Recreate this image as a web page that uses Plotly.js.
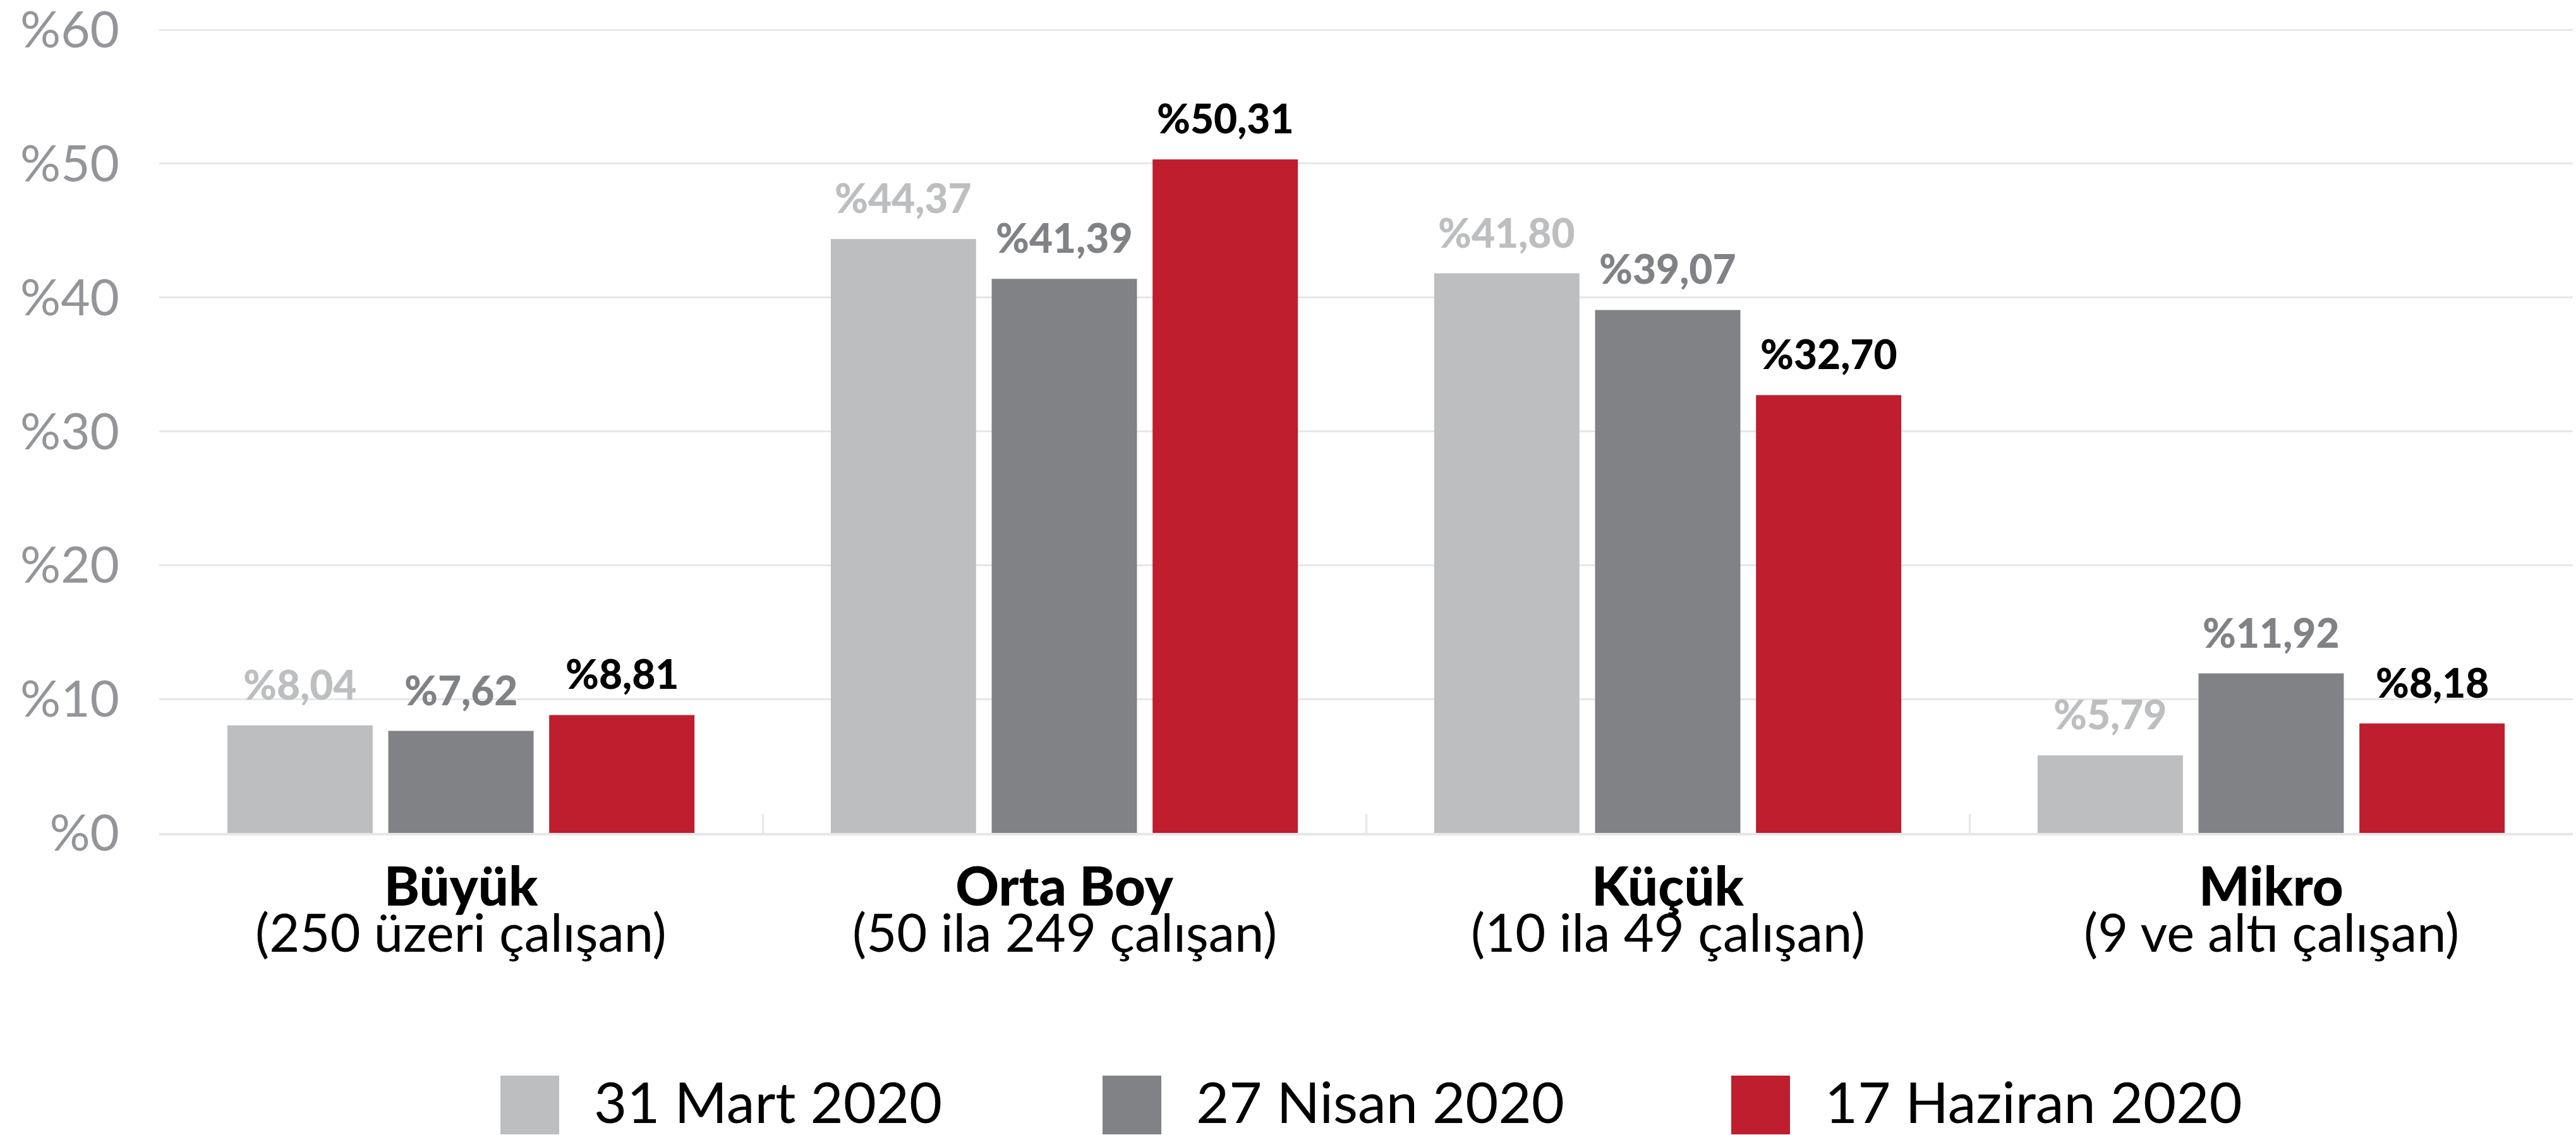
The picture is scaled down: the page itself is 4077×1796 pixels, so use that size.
<!DOCTYPE html>
<html>
<head>
<meta charset="utf-8">
<script src="https://cdn.plot.ly/plotly-3.0.1.min.js"></script>
<style>html,body{margin:0;padding:0;background:#fff;}#chart{width:4077px;height:1796px;}</style>
</head>
<body>
<div id="chart"></div>
<script>
// ---- data ----
const categories = ["Büyük", "Orta Boy", "Küçük", "Mikro"];
const subtitles = ["(250 üzeri çalışan)", "(50 ila 249 çalışan)", "(10 ila 49 çalışan)", "(9 ve altı çalışan)"];
const seriesNames = ["31 Mart 2020", "27 Nisan 2020", "17 Haziran 2020"];
const mart = [8.04, 44.37, 41.80, 5.79];
const nisan = [7.62, 41.39, 39.07, 11.92];
const haziran = [8.81, 50.31, 32.70, 8.18];
const yTicks = [0, 10, 20, 30, 40, 50, 60];
const yTickText = ["%0", "%10", "%20", "%30", "%40", "%50", "%60"];

// ---- styles ----
const barColors = ["#BCBEC0", "#808285", "#BE1E2D"];
const labelColors = ["#BCBEC0", "#808285", "#000000"];
const FONT = "Lato";
const W = 4077, H = 1796;
const M = {l: 252, r: 5, t: 45, b: 478};
const plotW = W - M.l - M.r, plotH = H - M.t - M.b;
const BARGAP = 0.2, BARGROUPGAP = 0.097;
const px2x = p => (p - M.l) / plotW;
const px2y = p => (H - M.b - p) / plotH;

const seriesValues = [mart, nisan, haziran];
const fmt = v => "%" + v.toFixed(2).replace(".", ",");

const traces = seriesValues.map((vals, j) => ({
  type: "bar",
  name: seriesNames[j],
  x: categories,
  y: vals,
  marker: {color: barColors[j], line: {width: 0}},
  hoverinfo: "skip",
  showlegend: false
}));

const annotations = [];
const slot = (1 - BARGAP) / seriesValues.length;
seriesValues.forEach((vals, j) => {
  vals.forEach((v, i) => {
    annotations.push({
      xref: "x", yref: "y",
      x: i + (j - (seriesValues.length - 1) / 2) * slot,
      y: v,
      text: fmt(v),
      showarrow: false,
      xanchor: "center", yanchor: "bottom",
      yshift: 27,
      borderpad: 0, borderwidth: 0,
      font: {family: FONT, size: 64, weight: 900, color: labelColors[j]}
    });
  });
});
subtitles.forEach((s, i) => {
  annotations.push({
    xref: "x", yref: "paper",
    x: i, y: px2y(1474),
    text: s, showarrow: false,
    xanchor: "center", yanchor: "middle",
    borderpad: 0, borderwidth: 0,
    font: {family: FONT, size: 83, color: "#000000"}
  });
});

// custom legend (large swatches)
const legendSwatchX = [792, 1745, 2740];
const legendTextX = [940, 1893, 2888];
const SW = 93;
const shapes = [];
seriesNames.forEach((n, j) => {
  shapes.push({
    type: "rect", xref: "paper", yref: "paper",
    x0: px2x(legendSwatchX[j]), x1: px2x(legendSwatchX[j] + SW),
    y0: px2y(1702), y1: px2y(1702 + SW),
    fillcolor: barColors[j], line: {width: 0}
  });
  annotations.push({
    xref: "paper", yref: "paper",
    x: px2x(legendTextX[j]), y: px2y(1742),
    text: n, showarrow: false,
    xanchor: "left", yanchor: "middle",
    borderpad: 0, borderwidth: 0,
    font: {family: FONT, size: 90, color: "#000000"}
  });
});

const layout = {
  width: W, height: H,
  margin: M,
  paper_bgcolor: "#ffffff", plot_bgcolor: "#ffffff",
  barmode: "group",
  bargap: BARGAP, bargroupgap: BARGROUPGAP,
  showlegend: false,
  font: {family: FONT},
  xaxis: {
    type: "category",
    tickmode: "array", tickvals: categories, ticktext: categories,
    tickson: "boundaries",
    ticks: "inside", ticklen: 30, tickwidth: 3, tickcolor: "#E6E7E8",
    showline: true, linecolor: "#E6E7E8", linewidth: 4,
    showgrid: false, zeroline: false,
    tickfont: {family: FONT, size: 85, weight: 900, color: "#000000"},
    ticklabelstandoff: 9,
    fixedrange: true
  },
  yaxis: {
    range: [0, 60.1],
    tickmode: "array", tickvals: yTicks, ticktext: yTickText,
    showgrid: true, gridcolor: "#E6E7E8", gridwidth: 3,
    zeroline: false, showline: false,
    ticks: "", ticklabelstandoff: 62,
    ticklabeloverflow: "allow",
    tickfont: {family: FONT, size: 80, color: "#939598"},
    fixedrange: true
  },
  annotations: annotations,
  shapes: shapes
};

Plotly.newPlot("chart", traces, layout, {displayModeBar: false, staticPlot: true});
</script>
</body>
</html>
